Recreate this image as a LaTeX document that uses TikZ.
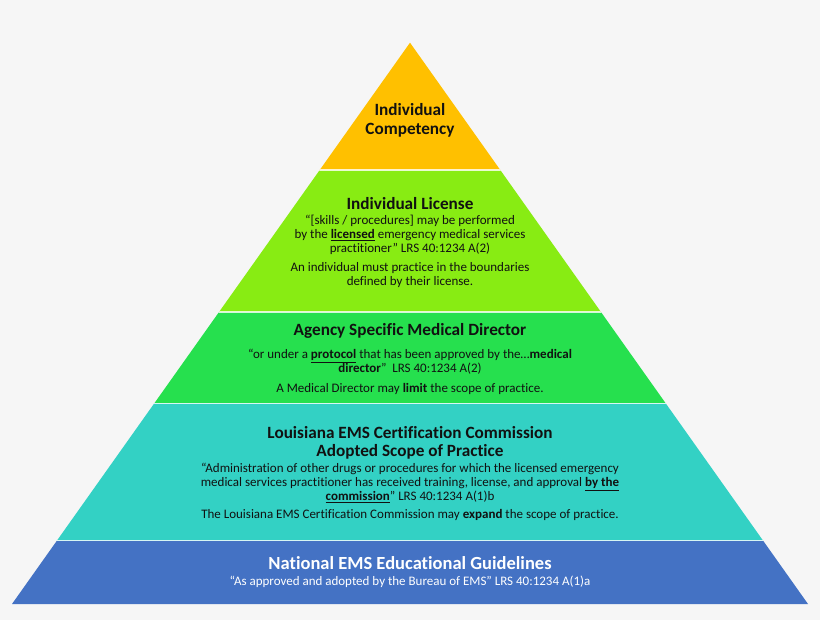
\documentclass[tikz,border=0pt]{standalone}
\usepackage{fontspec}
\setmainfont{Carlito}[Ligatures={NoCommon}]
\usepackage{tikz}
\usetikzlibrary{positioning,calc}
\definecolor{bgcol}{HTML}{F6F6F6}
\definecolor{compgold}{HTML}{FFC000}
\definecolor{licenselime}{HTML}{88EC13}
\definecolor{agencygreen}{HTML}{26E04E}
\definecolor{commteal}{HTML}{33D1C4}
\definecolor{natblue}{HTML}{4472C4}
\definecolor{inkblack}{HTML}{111111}

\begin{document}
\begin{tikzpicture}[
    x=1pt, y=-1pt,
    title/.style={font=\fontsize{17.2}{18.5}\selectfont\bfseries, text=inkblack, align=center},
    body/.style={font=\fontsize{13}{14.2}\selectfont, text=inkblack, align=center},
    gap/.style={white, line width=1.4pt, opacity=0.8},
]
\useasboundingbox[fill=bgcol] (0,0) rectangle (820,620);
\coordinate (apex) at (410,42.7);
\coordinate (bl) at (12,604);
\coordinate (br) at (808,604);

% pyramid bands
\begin{scope}
\clip (apex) -- (bl) -- (br) -- cycle;
\fill[compgold]    (0,40)    rectangle (820,170);
\fill[licenselime] (0,170)   rectangle (820,312);
\fill[agencygreen] (0,312)   rectangle (820,403.5);
\fill[commteal]    (0,403.5) rectangle (820,540.5);
\fill[natblue]     (0,540.5) rectangle (820,606);
\draw[gap] (0,170) -- (820,170);
\draw[gap] (0,312) -- (820,312);
\draw[gap] (0,403.5) -- (820,403.5);
\draw[gap] (0,540.5) -- (820,540.5);
\end{scope}

% top
\node[title] (comp) at (410,120.5) {Individual\\Competency};

% license
\node[title] (lic) at (410,204) {Individual License};
\node[body] (licq) at (410,235)
    {“[skills / procedures] may be performed\\
     by the \underline{\textbf{licensed}} emergency medical services\\
     practitioner” LRS 40:1234 A(2)};
\node[body] (licn) at (410,275)
    {An individual must practice in the boundaries\\defined by their license.};

% agency
\node[title] (agy) at (410,331) {Agency Specific Medical Director};
\node[body] (agyq) at (410,362)
    {“or under a \underline{\textbf{protocol}} that has been approved by the…\textbf{medical}\\
     \textbf{director}”~~LRS 40:1234 A(2)};
\node[body] (agyn) at (410,389)
    {A Medical Director may \textbf{limit} the scope of practice.};

% commission
\node[title] (com) at (410,443) {Louisiana EMS Certification Commission\\Adopted Scope of Practice};
\node[body] (comq) at (410,483)
    {“Administration of other drugs or procedures for which the licensed emergency\\
     medical services practitioner has received training, license, and approval \underline{\textbf{by the}}\\
     \underline{\textbf{commission}}” LRS 40:1234 A(1)b};
\node[body] (comn) at (410,515)
    {The Louisiana EMS Certification Commission may \textbf{expand} the scope of practice.};

% national
\node[title, text=white, font=\fontsize{18.5}{20}\selectfont\bfseries] (nat) at (410,563) {National EMS Educational Guidelines};
\node[body, text=white] (natq) at (410,581.5)
    {“As approved and adopted by the Bureau of EMS” LRS 40:1234 A(1)a};
\end{tikzpicture}
\end{document}
